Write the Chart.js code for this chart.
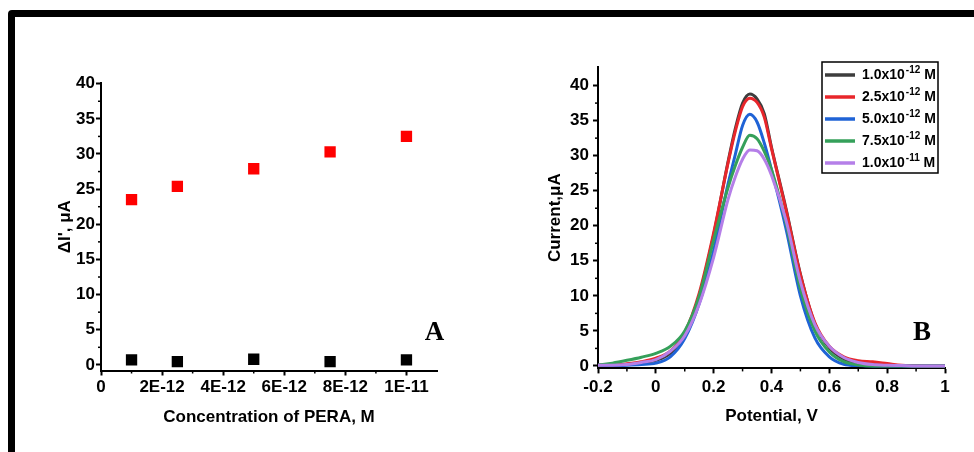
<!DOCTYPE html>
<html>
<head>
<meta charset="utf-8">
<script src="https://cdn.jsdelivr.net/npm/chart.js@4.4.1/dist/chart.umd.min.js"></script>
<style>
  html, body { margin: 0; padding: 0; background: #fff; overflow: hidden; }
  body { width: 974px; height: 452px; position: relative; }
  #frame { position: absolute; left: 8px; top: 10px; width: 1000px; height: 500px; border: 7px solid #000; border-radius: 4px; }
  .box { position: absolute; }
  #boxA { left: 16px; top: 18px; width: 460px; height: 420px; }
  #boxB { left: 490px; top: 18px; width: 480px; height: 420px; }
</style>
</head>
<body>
<div id="frame"></div>
<div class="box" id="boxA"><canvas id="chartA"></canvas></div>
<div class="box" id="boxB"><canvas id="chartB"></canvas></div>
<script>
// ---- panel A data ----
const concentrations = [1e-12, 2.5e-12, 5e-12, 7.5e-12, 1e-11];
const deltaIRed = [23.5, 25.4, 27.9, 30.3, 32.5];
const deltaIBlack = [0.7, 0.45, 0.8, 0.45, 0.7];
const concTicks = [0, 2e-12, 4e-12, 6e-12, 8e-12, 1e-11];
const concTickLabels = ['0', '2E-12', '4E-12', '6E-12', '8E-12', '1E-11'];
const currentTicks = [0, 5, 10, 15, 20, 25, 30, 35, 40];

// ---- panel B data ----
const potentials = [-0.2, -0.15, -0.1, -0.05, 0, 0.05, 0.1, 0.15, 0.2, 0.25, 0.275, 0.3, 0.325, 0.35, 0.375, 0.4, 0.45, 0.5, 0.55, 0.6, 0.65, 0.7, 0.75, 0.8, 0.85, 0.9, 0.95, 1.0];
const curr1p0e12 = [0.1, 0.1, 0.2, 0.4, 0.8, 1.8, 4.5, 10.0, 18.7, 29.2, 33.9, 37.5, 38.8, 38.1, 36.0, 31.2, 22.5, 13.1, 6.0, 2.6, 1.0, 0.4, 0.2, 0.1, 0.05, 0, 0, 0];
const curr2p5e12 = [0.1, 0.1, 0.3, 0.6, 1.1, 2.1, 4.8, 10.4, 19.0, 29.0, 33.5, 37.0, 38.2, 37.6, 35.5, 31.0, 22.3, 13.0, 6.2, 2.8, 1.3, 0.75, 0.6, 0.35, 0.1, 0.05, 0, 0];
const curr5p0e12 = [0.1, 0.05, 0.1, 0.2, 0.4, 1.3, 3.9, 8.9, 16.5, 26.0, 30.2, 34.3, 35.9, 34.8, 31.8, 28.0, 19.6, 10.0, 4.0, 1.3, 0.25, 0.05, 0, 0, 0, 0, 0, 0];
const curr7p5e12 = [0.1, 0.4, 0.8, 1.25, 1.8, 2.8, 5.0, 10.0, 18.0, 25.5, 28.6, 31.2, 32.9, 32.4, 30.6, 28.0, 20.4, 11.0, 5.0, 2.0, 0.6, 0.15, 0, 0, 0, 0, 0, 0];
const curr1p0e11 = [0.1, 0.1, 0.2, 0.5, 0.9, 2.1, 4.3, 8.8, 15.5, 23.8, 27.0, 29.5, 30.8, 30.7, 29.5, 27.2, 20.8, 12.0, 5.9, 2.8, 1.2, 0.5, 0.2, 0.1, 0.05, 0, 0, 0];
const potentialTicks = [-0.2, 0, 0.2, 0.4, 0.6, 0.8, 1];
const potentialTickLabels = ['-0.2', '0', '0.2', '0.4', '0.6', '0.8', '1'];
const legendBase = ['1.0x10', '2.5x10', '5.0x10', '7.5x10', '1.0x10'];
const legendExp = ['-12', '-12', '-12', '-12', '-11'];
const curveColors = ['#3d3d3d', '#e8262b', '#1f63d6', '#35a05a', '#b57fe8'];

Chart.defaults.font.family = '"Liberation Sans", Arial, sans-serif';
Chart.defaults.color = '#000';

const FONT_TICK = { size: 17, weight: 'bold' };
const FONT_TITLE = { size: 17, weight: 'bold' };

function axis(opts) {
  return Object.assign({
    type: 'linear',
    border: { display: true, color: '#000', width: 2 },
    grid: { display: true, drawOnChartArea: false, drawTicks: true, tickLength: 5, tickColor: '#000', tickWidth: 2 }
  }, opts);
}

// small in-between tick marks
const minorTicks = {
  id: 'minorTicks',
  afterDraw(chart) {
    const ctx = chart.ctx;
    ctx.save();
    ctx.strokeStyle = '#000';
    ctx.lineWidth = 1.5;
    Object.values(chart.scales).forEach(scale => {
      const vals = scale.ticks.map(t => t.value);
      for (let i = 0; i < vals.length - 1; i++) {
        const p = scale.getPixelForValue((vals[i] + vals[i + 1]) / 2);
        ctx.beginPath();
        if (scale.isHorizontal()) { ctx.moveTo(p, scale.top); ctx.lineTo(p, scale.top + 3); }
        else { ctx.moveTo(scale.right, p); ctx.lineTo(scale.right - 3, p); }
        ctx.stroke();
      }
    });
    ctx.restore();
  }
};

// big serif letter in the corner
const panelLetter = {
  id: 'panelLetter',
  afterDraw(chart, args, o) {
    const ctx = chart.ctx, a = chart.chartArea;
    ctx.save();
    ctx.font = 'bold 27px "Liberation Serif", "Times New Roman", serif';
    ctx.fillStyle = '#000';
    ctx.textAlign = 'center';
    ctx.textBaseline = 'middle';
    ctx.fillText(o.text, a.right + o.dx, a.bottom + o.dy);
    ctx.restore();
  }
};

// legend with superscript exponents
const concLegend = {
  id: 'concLegend',
  afterDraw(chart) {
    const ctx = chart.ctx, a = chart.chartArea;
    const left = a.right - 123, top = a.top - 5, w = 116, h = 111;
    ctx.save();
    ctx.fillStyle = '#fff';
    ctx.fillRect(left, top, w, h);
    ctx.strokeStyle = '#000';
    ctx.lineWidth = 1.5;
    ctx.strokeRect(left, top, w, h);
    chart.data.datasets.forEach((ds, i) => {
      const y = top + 13 + i * 22;
      ctx.strokeStyle = ds.borderColor;
      ctx.lineWidth = 3.5;
      ctx.beginPath();
      ctx.moveTo(left + 3, y);
      ctx.lineTo(left + 33, y);
      ctx.stroke();
      ctx.fillStyle = '#000';
      ctx.textBaseline = 'middle';
      ctx.textAlign = 'left';
      let x = left + 40;
      ctx.font = 'bold 14px "Liberation Sans", Arial, sans-serif';
      ctx.fillText(legendBase[i], x, y);
      x += ctx.measureText(legendBase[i]).width + 1;
      ctx.font = 'bold 10px "Liberation Sans", Arial, sans-serif';
      ctx.fillText(legendExp[i], x, y - 5);
      x += ctx.measureText(legendExp[i]).width;
      ctx.font = 'bold 14px "Liberation Sans", Arial, sans-serif';
      ctx.fillText(' M', x, y);
    });
    ctx.restore();
  }
};

// ========================
// PANEL A
// ========================
new Chart(document.getElementById('chartA'), {
  type: 'scatter',
  data: {
    datasets: [
      {
        label: 'red',
        data: concentrations.map((c, i) => ({ x: c, y: deltaIRed[i] })),
        pointStyle: 'rect', pointRadius: 8, borderWidth: 0,
        backgroundColor: '#ff0000'
      },
      {
        label: 'black',
        data: concentrations.map((c, i) => ({ x: c, y: deltaIBlack[i] })),
        pointStyle: 'rect', pointRadius: 8, borderWidth: 0,
        backgroundColor: '#000000'
      }
    ]
  },
  options: {
    responsive: true,
    maintainAspectRatio: false,
    animation: false,
    layout: { padding: { left: 39, right: 39, top: 65, bottom: 10 } },
    plugins: {
      legend: { display: false },
      tooltip: { enabled: false },
      panelLetter: { text: 'A', dx: -2.5, dy: -37 }
    },
    scales: {
      x: axis({
        min: 0, max: 1.1e-11,
        afterBuildTicks: s => { s.ticks = concTicks.map(v => ({ value: v })); },
        afterFit: s => { s.height = 57.5; },
        ticks: { font: FONT_TICK, color: '#000', padding: 2, autoSkip: false, maxRotation: 0,
          callback: (v, i) => concTickLabels[i] },
        title: { display: true, text: 'Concentration of PERA, M', font: FONT_TITLE, padding: 0 }
      }),
      y: axis({
        min: -0.8, max: 40.1,
        afterBuildTicks: s => { s.ticks = currentTicks.map(v => ({ value: v })); },
        afterFit: s => { s.width = 46; },
        ticks: { font: FONT_TICK, color: '#000', padding: 1, autoSkip: false, callback: v => String(v) },
        title: { display: true, text: 'ΔI\', μA', font: FONT_TITLE, padding: 0 }
      })
    }
  },
  plugins: [minorTicks, panelLetter]
});

// ========================
// PANEL B
// ========================
const curves = [curr1p0e12, curr2p5e12, curr5p0e12, curr7p5e12, curr1p0e11];
new Chart(document.getElementById('chartB'), {
  type: 'line',
  data: {
    datasets: curves.map((arr, i) => ({
      label: legendBase[i] + legendExp[i],
      data: potentials.map((p, j) => ({ x: p, y: arr[j] })),
      borderColor: curveColors[i],
      borderWidth: 3,
      pointRadius: 0,
      fill: false,
      cubicInterpolationMode: 'monotone',
      order: curves.length - i
    }))
  },
  options: {
    responsive: true,
    maintainAspectRatio: false,
    animation: false,
    layout: { padding: { left: 55, right: 25, top: 49, bottom: 11 } },
    plugins: {
      legend: { display: false },
      tooltip: { enabled: false },
      panelLetter: { text: 'B', dx: -23, dy: -35 }
    },
    scales: {
      x: axis({
        min: -0.2, max: 1.0,
        afterBuildTicks: s => { s.ticks = potentialTicks.map(v => ({ value: v })); },
        afterFit: s => { s.height = 58.6; },
        ticks: { font: FONT_TICK, color: '#000', padding: 4, autoSkip: false, maxRotation: 0,
          callback: (v, i) => potentialTickLabels[i] },
        title: { display: true, text: 'Potential, V', font: FONT_TITLE, padding: 0 }
      }),
      y: axis({
        min: -0.35, max: 42.65,
        afterBuildTicks: s => { s.ticks = currentTicks.map(v => ({ value: v })); },
        afterFit: s => { s.width = 53; },
        ticks: { font: FONT_TICK, color: '#000', padding: 4, autoSkip: false, callback: v => String(v) },
        title: { display: true, text: 'Current,μA', font: FONT_TITLE, padding: 0 }
      })
    }
  },
  plugins: [minorTicks, panelLetter, concLegend]
});
</script>
</body>
</html>
